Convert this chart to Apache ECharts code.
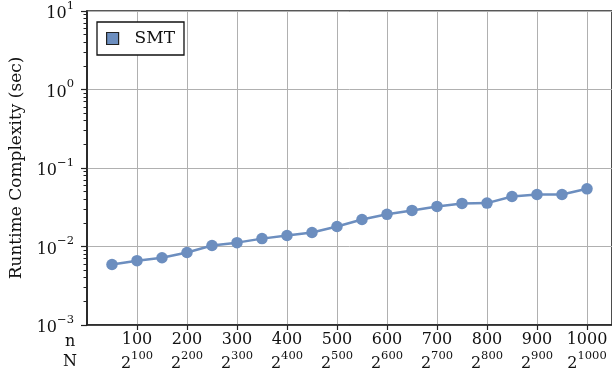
<!DOCTYPE html>
<html>
<head>
<meta charset="utf-8">
<script src="https://cdn.jsdelivr.net/npm/echarts@6/dist/echarts.min.js"></script>
<style>html,body{margin:0;padding:0;background:#fff}#c{width:612px;height:377px}</style>
</head>
<body>
<div id="c"></div>
<script>
const nValues = [50, 100, 150, 200, 250, 300, 350, 400, 450, 500, 550, 600, 650, 700, 750, 800, 850, 900, 950, 1000];
const smtRuntime = [0.0059, 0.0066, 0.0072, 0.0084, 0.0103, 0.0112, 0.0126, 0.0138, 0.0151, 0.0180, 0.0221, 0.0257, 0.0288, 0.0324, 0.0354, 0.0357, 0.0434, 0.0459, 0.0459, 0.0543];
const xTickValues = [100, 200, 300, 400, 500, 600, 700, 800, 900, 1000];
const yTickValues = [0.001, 0.01, 0.1, 1, 10];
const yTickExponents = ['\u22123', '\u22122', '\u22121', '0', '1'];
const seriesName = 'SMT';
const yAxisTitle = 'Runtime Complexity (sec)';
const xRowNames = ['n', 'N'];

const yMinorTicks = [];
for (let d = 0; d < yTickValues.length - 1; d++) {
  for (let m = 2; m <= 9; m++) yMinorTicks.push(yTickValues[d] * m);
}

const FONT = 'DejaVu Serif';
const TXT = '#111';
const BLUE = '#6c8ebf';
const FS = 16;
const SS = 11.5;

const chart = echarts.init(document.getElementById('c'), null, {renderer: 'canvas'});
chart.setOption({
  animation: false,
  backgroundColor: '#fff',
  textStyle: {fontFamily: FONT, color: TXT},
  grid: {left: 87, right: 0, top: 11, bottom: 52, show: true, borderColor: '#222', borderWidth: 1.6},
  legend: {
    left: 97, top: 22,
    data: [{name: seriesName, icon: 'rect'}],
    itemWidth: 12, itemHeight: 12,
    itemStyle: {color: BLUE, borderColor: '#222', borderWidth: 1.2},
    borderColor: '#111', borderWidth: 1.3, borderRadius: 0,
    padding: [8, 9, 8, 9],
    backgroundColor: '#fff',
    textStyle: {fontFamily: FONT, fontSize: 17, color: TXT, padding: [0, 0, 0, 11]}
  },
  xAxis: {
    type: 'value', min: 0, max: 1050, interval: 100,
    axisLine: {show: true, onZero: false, lineStyle: {color: '#222', width: 1.6}},
    axisTick: {show: true, length: 5, customValues: xTickValues, lineStyle: {color: '#222', width: 1.2}},
    axisLabel: {
      customValues: xTickValues,
      margin: 5,
      formatter: v => '{a|' + v + '}\n{b|2}{s|' + v + '}',
      rich: {
        a: {fontFamily: FONT, fontSize: FS, color: TXT, lineHeight: 20, align: 'center'},
        b: {fontFamily: FONT, fontSize: FS, color: TXT, lineHeight: 22, verticalAlign: 'bottom'},
        s: {fontFamily: FONT, fontSize: SS, color: TXT, lineHeight: 12, verticalAlign: 'top'}
      }
    },
    splitLine: {show: true, lineStyle: {color: '#b0b0b0', width: 1}}
  },
  yAxis: [{
    type: 'log', logBase: 10, min: 0.001, max: 10,
    name: yAxisTitle, nameLocation: 'middle', nameGap: 62,
    nameTextStyle: {fontFamily: FONT, fontSize: 17, color: TXT},
    axisLine: {show: true, lineStyle: {color: '#222', width: 1.6}},
    axisTick: {show: true, length: 6, customValues: yTickValues, lineStyle: {color: '#222', width: 1.2}},
    axisLabel: {
      customValues: yTickValues,
      margin: 13,
      formatter: v => {
        const i = yTickValues.findIndex(t => Math.abs(Math.log10(t) - Math.log10(v)) < 1e-6);
        return '{b|10}{s|' + (i >= 0 ? yTickExponents[i] : '') + '}';
      },
      rich: {
        b: {fontFamily: FONT, fontSize: FS, color: TXT, lineHeight: 22, verticalAlign: 'bottom'},
        s: {fontFamily: FONT, fontSize: SS, color: TXT, lineHeight: 12, verticalAlign: 'top'}
      }
    },
    splitLine: {show: true, lineStyle: {color: '#b0b0b0', width: 1}}
  }, {
    type: 'log', logBase: 10, min: 0.001, max: 10, position: 'left',
    axisLine: {show: false},
    axisTick: {show: true, length: 3.5, customValues: yMinorTicks, lineStyle: {color: '#222', width: 1}},
    axisLabel: {show: false},
    splitLine: {show: false}
  }],
  series: [{
    name: seriesName,
    type: 'line',
    yAxisIndex: 0,
    data: nValues.map((n, i) => [n, smtRuntime[i]]),
    symbol: 'circle', symbolSize: 11.5,
    itemStyle: {color: BLUE},
    lineStyle: {color: BLUE, width: 2.5}
  }],
  graphic: [
    {type: 'text', left: 65, top: 334, style: {text: xRowNames[0], fontFamily: FONT, fontSize: FS, fill: TXT}},
    {type: 'text', left: 63, top: 354, style: {text: xRowNames[1], fontFamily: FONT, fontSize: FS, fill: TXT}}
  ]
});
</script>
</body>
</html>
